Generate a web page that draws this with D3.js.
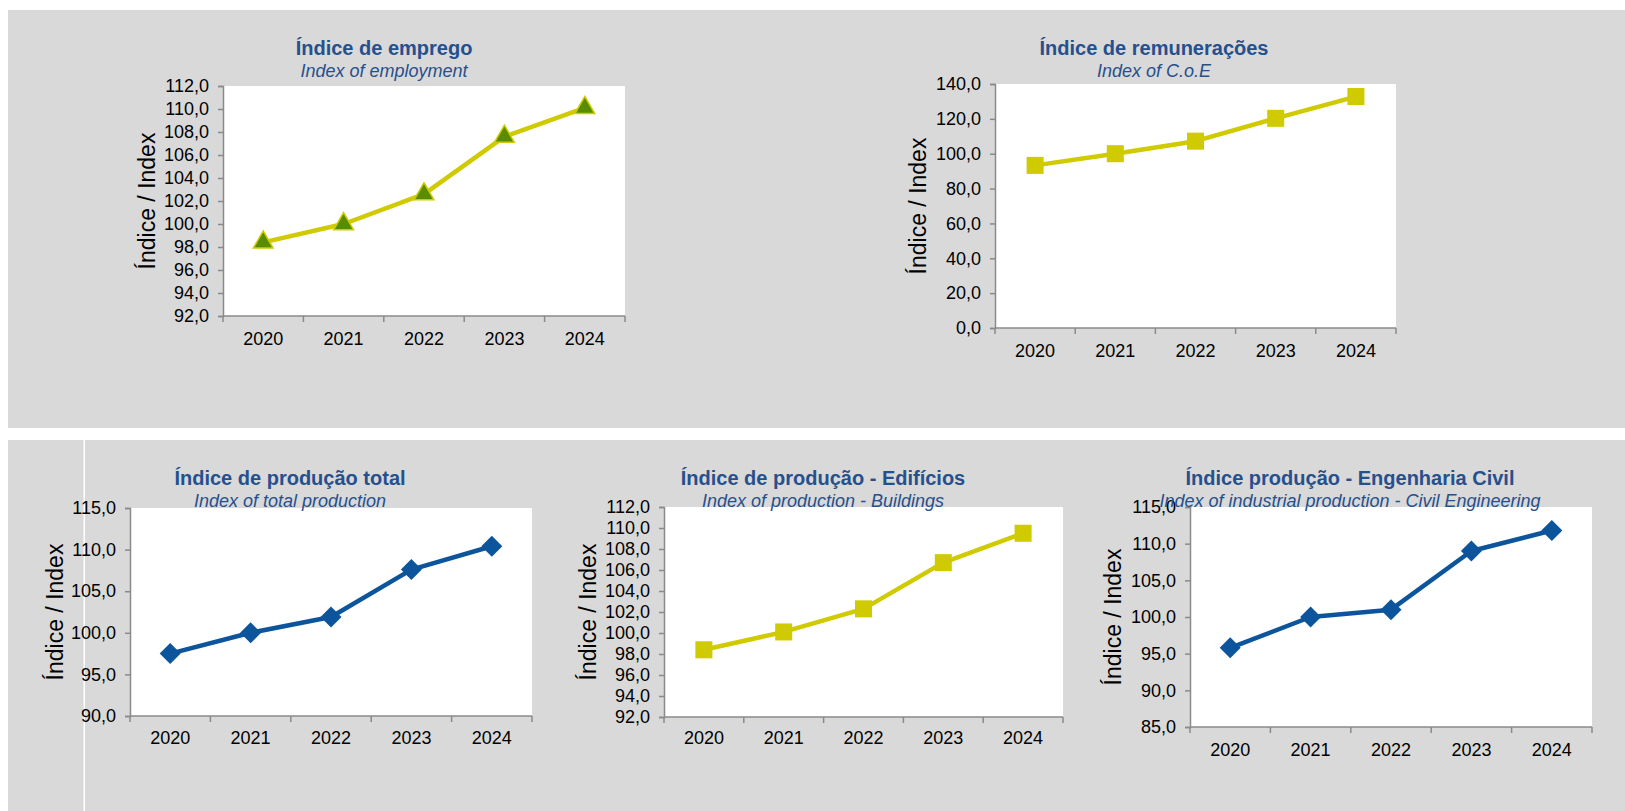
<!DOCTYPE html>
<html>
<head>
<meta charset="utf-8">
<script src="https://cdn.jsdelivr.net/npm/d3@7"></script>
<style>
  html, body { margin: 0; padding: 0; background: #ffffff; }
  svg { display: block; }
  text { font-family: "Liberation Sans", Arial, sans-serif; }
</style>
</head>
<body>
<svg id="chart" width="1625" height="811"></svg>
<script>
// Years shown on every category axis
const years = ["2020", "2021", "2022", "2023", "2024"];

// Index series (base 2021 = 100)
const employment = [98.4, 100.0, 102.6, 107.6, 110.1];
const compensation = [93.3, 100.0, 107.2, 120.3, 132.8];
const productionTotal = [97.5, 100.0, 101.9, 107.6, 110.4];
const productionBuildings = [98.4, 100.1, 102.3, 106.7, 109.5];
const productionCivil = [95.8, 100.0, 101.0, 109.0, 111.8];

// Value-axis tick labels
const employmentTicks = [92, 94, 96, 98, 100, 102, 104, 106, 108, 110, 112];
const compensationTicks = [0, 20, 40, 60, 80, 100, 120, 140];
const totalTicks = [90, 95, 100, 105, 110, 115];
const buildingsTicks = [92, 94, 96, 98, 100, 102, 104, 106, 108, 110, 112];
const civilTicks = [85, 90, 95, 100, 105, 110, 115];

// Titles
const titles = [
  { pt: "Índice de emprego", en: "Index of employment" },
  { pt: "Índice de remunerações", en: "Index of C.o.E" },
  { pt: "Índice de produção total", en: "Index of total production" },
  { pt: "Índice de produção - Edifícios", en: "Index of production - Buildings" },
  { pt: "Índice produção - Engenharia Civil", en: "Index of industrial production - Civil Engineering" }
];
const axisTitle = "Índice / Index";

const YELLOW = "#cfcb00";
const BLUE = "#0c559c";
const TITLE_BLUE = "#26508d";
const AXIS_GREY = "#8a8a8a";

const svg = d3.select("#chart");

// Grey backdrop panels
svg.append("rect").attr("x", 8).attr("y", 10).attr("width", 1617).attr("height", 418).attr("fill", "#d9d9d9");
svg.append("rect").attr("x", 8).attr("y", 440).attr("width", 1617).attr("height", 371).attr("fill", "#d9d9d9");
svg.append("rect").attr("x", 83.5).attr("y", 440).attr("width", 1.5).attr("height", 371).attr("fill", "#ffffff");

function fmt(v) { return d3.format(".1f")(v).replace(".", ","); }

function drawChart(cfg) {
  const { left, right, top, bottom, values, ticks, color, marker, title, titleX, titleY, labelX, xLabelY } = cfg;

  const x = d3.scaleBand().domain(years).range([left, right]).padding(0);
  const y = d3.scaleLinear().domain([ticks[0], ticks[ticks.length - 1]]).range([bottom, top]);

  const g = svg.append("g");

  // plot area
  g.append("rect").attr("x", left).attr("y", top).attr("width", right - left).attr("height", bottom - top).attr("fill", "#ffffff");

  // value axis
  const yAxis = d3.axisLeft(y).tickValues(ticks).tickFormat(fmt).tickSize(5).tickPadding(9);
  const ya = g.append("g").attr("transform", `translate(${left},0)`).call(yAxis);
  ya.select(".domain").attr("stroke", AXIS_GREY).attr("stroke-width", 1.5);
  ya.selectAll(".tick line").attr("stroke", AXIS_GREY).attr("stroke-width", 1.5);
  ya.selectAll(".tick text").attr("fill", "#000").style("font-size", "18px").style("font-family", "'Liberation Sans', Arial, sans-serif");

  // category axis
  const xa = g.append("g");
  xa.append("line").attr("x1", left).attr("x2", right).attr("y1", bottom).attr("y2", bottom)
    .attr("stroke", AXIS_GREY).attr("stroke-width", 1.5);
  const bounds = years.map(d => x(d)).concat([x.range()[1]]);
  xa.selectAll("line.b").data(bounds).join("line").attr("class", "b")
    .attr("x1", d => d).attr("x2", d => d).attr("y1", bottom).attr("y2", bottom + 6)
    .attr("stroke", AXIS_GREY).attr("stroke-width", 1.5);
  xa.selectAll("text").data(years).join("text")
    .attr("x", d => x(d) + x.bandwidth() / 2).attr("y", xLabelY)
    .attr("text-anchor", "middle").style("font-size", "18px").attr("fill", "#000")
    .text(d => d);

  // axis title
  g.append("text")
    .attr("transform", `translate(${labelX},${(top + bottom) / 2}) rotate(-90)`)
    .attr("text-anchor", "middle").attr("dy", "0.35em")
    .style("font-size", "23px").attr("fill", "#000")
    .text(axisTitle);

  // titles
  g.append("text").attr("x", titleX).attr("y", titleY).attr("text-anchor", "middle")
    .style("font-size", "20px").style("font-weight", "bold").attr("fill", TITLE_BLUE).text(title.pt);
  g.append("text").attr("x", titleX).attr("y", titleY + 22).attr("text-anchor", "middle")
    .style("font-size", "18px").style("font-style", "italic").attr("fill", TITLE_BLUE).text(title.en);

  // series line
  const pts = years.map((d, i) => [x(d) + x.bandwidth() / 2, y(values[i])]);
  g.append("path").datum(pts).attr("d", d3.line()).attr("fill", "none")
    .attr("stroke", color).attr("stroke-width", 4.5).attr("stroke-linejoin", "round");

  // markers
  let sym;
  if (marker === "triangle") sym = d3.symbol().type(d3.symbolTriangle).size(170);
  else if (marker === "square") sym = d3.symbol().type(d3.symbolSquare).size(290);
  else sym = d3.symbol().type(d3.symbolSquare).size(220);

  g.selectAll("path.m").data(pts).join("path").attr("class", "m")
    .attr("d", sym)
    .attr("transform", d => `translate(${d[0]},${d[1]})` + (marker === "diamond" ? " rotate(45)" : ""))
    .attr("fill", marker === "triangle" ? "#5a8c00" : color)
    .attr("stroke", marker === "triangle" ? YELLOW : "none")
    .attr("stroke-width", 1.5);
}

drawChart({ left: 223, right: 625, top: 86, bottom: 316, values: employment, ticks: employmentTicks,
  color: YELLOW, marker: "triangle", title: titles[0], titleX: 384, titleY: 55, labelX: 147, xLabelY: 345 });
drawChart({ left: 995, right: 1396, top: 84, bottom: 328, values: compensation, ticks: compensationTicks,
  color: YELLOW, marker: "square", title: titles[1], titleX: 1154, titleY: 55, labelX: 918, xLabelY: 357 });
drawChart({ left: 130, right: 532, top: 508, bottom: 716, values: productionTotal, ticks: totalTicks,
  color: BLUE, marker: "diamond", title: titles[2], titleX: 290, titleY: 485, labelX: 55, xLabelY: 744 });
drawChart({ left: 664, right: 1063, top: 507, bottom: 717, values: productionBuildings, ticks: buildingsTicks,
  color: YELLOW, marker: "square", title: titles[3], titleX: 823, titleY: 485, labelX: 588, xLabelY: 744 });
drawChart({ left: 1190, right: 1592, top: 507, bottom: 727, values: productionCivil, ticks: civilTicks,
  color: BLUE, marker: "diamond", title: titles[4], titleX: 1350, titleY: 485, labelX: 1113, xLabelY: 756 });
</script>
</body>
</html>
